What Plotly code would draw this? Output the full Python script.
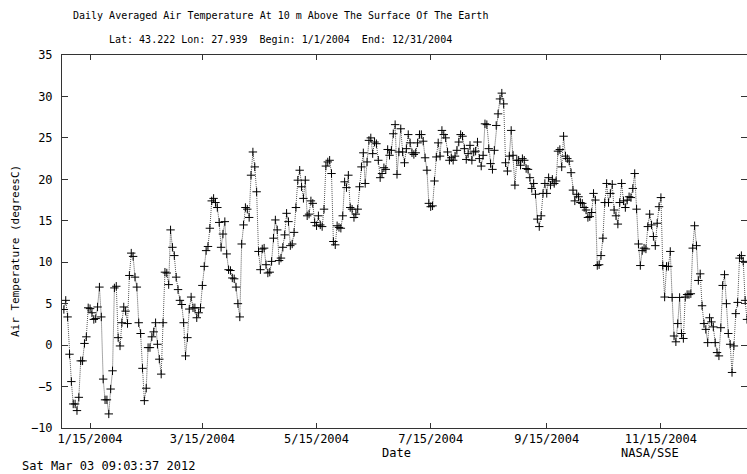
import datetime as dt
import plotly.graph_objects as go

# Daily averaged air temperature at 10 m (degrees C), 2004, read month by month
jan = [4.3, 5.4, 3.4, -1.1, -4.4, -7.1, -7.1, -7.9, -6.3, -1.9, -1.9, 0.2, 1.0, 4.5, 4.4, 3.9,
       3.1, 3.2, 4.6, 7.0, 3.4, -4.1, -6.6, -6.6, -8.3, -5.3, -3.1, 6.9, 7.1, 0.9, -0.1]
feb = [2.7, 4.6, 4.1, 2.6, 8.4, 11.1, 10.7, 8.2, 7.0, 2.7, 1.4, -2.8, -6.7, -5.2, -0.3,
       -0.3, 1.0, 1.6, 2.7, 0.1, -1.7, -3.5, 2.7, 8.8, 8.7, 7.3, 13.9, 11.8, 10.8]
mar = [8.2, 6.7, 5.4, 4.9, 2.7, -1.3, 0.9, 4.35, 5.8, 4.5, 4.5, 3.3, 3.9, 4.5, 7.2, 9.5,
       11.4, 11.9, 14.1, 17.4, 17.7, 17.2, 16.6, 14.8, 11.8, 13.4, 14.9, 11.0, 9.1, 9.0, 8.1]
apr = [8.0, 7.0, 5.0, 3.4, 12.2, 14.5, 16.6, 16.4, 15.4, 20.5, 23.3, 21.5, 18.5, 11.3, 9.1,
       11.6, 11.7, 9.7, 8.7, 8.8, 10.1, 12.9, 15.1, 13.9, 10.2, 10.5, 11.8, 13.3, 15.9, 14.9]
may = [12.0, 12.2, 13.6, 16.6, 19.9, 21.1, 19.1, 17.7, 19.9, 15.6, 15.8, 17.4, 17.1, 14.8,
       14.4, 15.6, 14.5, 14.3, 16.4, 21.6, 22.1, 22.3, 20.7, 12.5, 12.1, 14.4, 14.2, 14.1,
       15.6, 19.7, 19.0]
jun = [20.5, 16.6, 16.4, 15.4, 15.8, 16.4, 19.1, 21.5, 23.2, 19.5, 22.1, 24.7, 25.0, 23.1,
       24.5, 24.3, 22.3, 20.2, 20.7, 21.4, 21.2, 23.6, 22.9, 23.5, 25.5, 26.6, 20.6, 23.3,
       26.1, 23.3]
jul = [22.0, 23.7, 25.4, 24.4, 23.2, 23.0, 23.2, 24.4, 25.4, 25.4, 24.6, 22.6, 21.1, 17.1,
       16.7, 16.8, 19.8, 22.7, 24.4, 22.8, 25.9, 25.4, 25.0, 23.3, 22.3, 22.6, 22.3, 22.8,
       23.5, 24.5, 25.4]
aug = [25.2, 23.7, 22.4, 23.1, 24.1, 22.3, 23.3, 23.4, 24.5, 22.5, 21.6, 22.9, 26.7, 26.6,
       23.7, 21.9, 21.2, 23.5, 26.5, 27.9, 29.7, 30.4, 29.1, 22.0, 21.0, 22.8, 25.9, 22.9,
       19.3, 22.3, 22.3]
sep = [21.7, 22.5, 22.3, 21.3, 21.2, 20.2, 18.9, 19.5, 18.2, 15.2, 14.3, 15.6, 18.3, 19.5,
       18.3, 20.2, 19.3, 20.0, 19.5, 19.8, 23.4, 23.6, 21.5, 25.2, 22.8, 22.5, 22.2, 20.8,
       18.7, 17.4]
oct_ = [18.2, 17.9, 17.2, 17.1, 16.6, 16.3, 15.4, 15.5, 16.0, 18.3, 17.5, 9.6, 9.7, 10.8,
        12.9, 17.2, 19.5, 17.2, 18.3, 19.4, 16.3, 15.6, 14.6, 17.2, 19.5, 17.4, 16.6, 17.5,
        17.9, 17.8, 18.9]
nov = [20.7, 16.4, 12.2, 9.6, 11.4, 11.7, 11.6, 14.3, 15.8, 14.5, 13.1, 12.0, 14.7, 16.7,
       17.8, 9.6, 5.8, 9.5, 9.5, 11.3, 5.75, 1.1, 0.4, 2.6, 5.75, 1.4, 0.8, 5.8, 6.1, 6.1]
dec = [6.2, 11.7, 14.4, 12.0, 7.8, 8.6, 4.75, 2.6, 1.9, 0.3, 3.3, 2.8, 2.2, 0.3, -0.9, -1.3,
       2.1, 7.2, 8.5, 5.0, 1.4, 0.1, -3.3, -0.1, 3.8, 5.15, 10.5, 10.8, 10.1, 5.4, 3.1]

temps = jan + feb + mar + apr + may + jun + jul + aug + sep + oct_ + nov + dec
start = dt.date(2004, 1, 1)
dates = [start + dt.timedelta(days=i) for i in range(len(temps))]

tick_dates = ["2004-01-15", "2004-03-15", "2004-05-15", "2004-07-15", "2004-09-15", "2004-11-15"]
tick_labels = ["1/15/2004", "3/15/2004", "5/15/2004", "7/15/2004", "9/15/2004", "11/15/2004"]
y_ticks = [-10, -5, 0, 5, 10, 15, 20, 25, 30, 35]

MONO = "DejaVu Sans Mono"
W, H = 747, 474
L, R, T, B = 62, 0, 55, 46
pw, ph = W - L - R, H - T - B


def px(x):
    return (x - L) / pw


def py(y):
    return (H - B - y) / ph


fig = go.Figure()
fig.add_trace(go.Scatter(
    x=dates, y=temps, mode="lines+markers",
    line=dict(color="#555555", width=1, dash="1px,1px"),
    marker=dict(symbol="cross-thin", size=6, line=dict(color="black", width=1)),
    hoverinfo="skip", showlegend=False,
))

axis_common = dict(showline=True, linecolor="#333333", linewidth=1, mirror="ticks",
                   ticks="inside", tickcolor="#333333", showgrid=False, zeroline=False,
                   tickfont=dict(family=MONO, size=12, color="black"))

fig.update_layout(
    width=W, height=H, margin=dict(l=L, r=R, t=T, b=B),
    paper_bgcolor="white", plot_bgcolor="white",
    xaxis=dict(type="date", range=["2003-12-31", "2004-12-31"],
               tickvals=tick_dates, ticktext=tick_labels, ticklen=5, **axis_common),
    yaxis=dict(range=[-10, 35], tickvals=y_ticks, ticklen=6, ticklabelstandoff=6,
               **axis_common),
    annotations=[
        dict(text="Daily Averaged Air Temperature At 10 m Above The Surface Of The Earth",
             x=px(280), y=py(16), xref="paper", yref="paper", showarrow=False,
             xanchor="center", yanchor="middle", font=dict(family=MONO, size=10, color="black")),
        dict(text="Lat: 43.222 Lon: 27.939  Begin: 1/1/2004  End: 12/31/2004",
             x=px(280), y=py(40), xref="paper", yref="paper", showarrow=False,
             xanchor="center", yanchor="middle", font=dict(family=MONO, size=10, color="black")),
        dict(text="Air Temperature (degreesC)", textangle=-90,
             x=px(15), y=py(251), xref="paper", yref="paper", showarrow=False,
             xanchor="center", yanchor="middle", font=dict(family=MONO, size=11, color="black")),
        dict(text="Date", x=px(396), y=py(453), xref="paper", yref="paper", showarrow=False,
             xanchor="center", yanchor="middle", font=dict(family=MONO, size=12, color="black")),
        dict(text="NASA/SSE", x=px(650), y=py(453), xref="paper", yref="paper", showarrow=False,
             xanchor="center", yanchor="middle", font=dict(family=MONO, size=12, color="black")),
        dict(text="Sat Mar 03 09:03:37 2012", x=px(20), y=py(466), xref="paper", yref="paper",
             showarrow=False, xanchor="left", yanchor="middle",
             font=dict(family=MONO, size=12, color="black")),
    ],
)

fig.write_html("out.html")
